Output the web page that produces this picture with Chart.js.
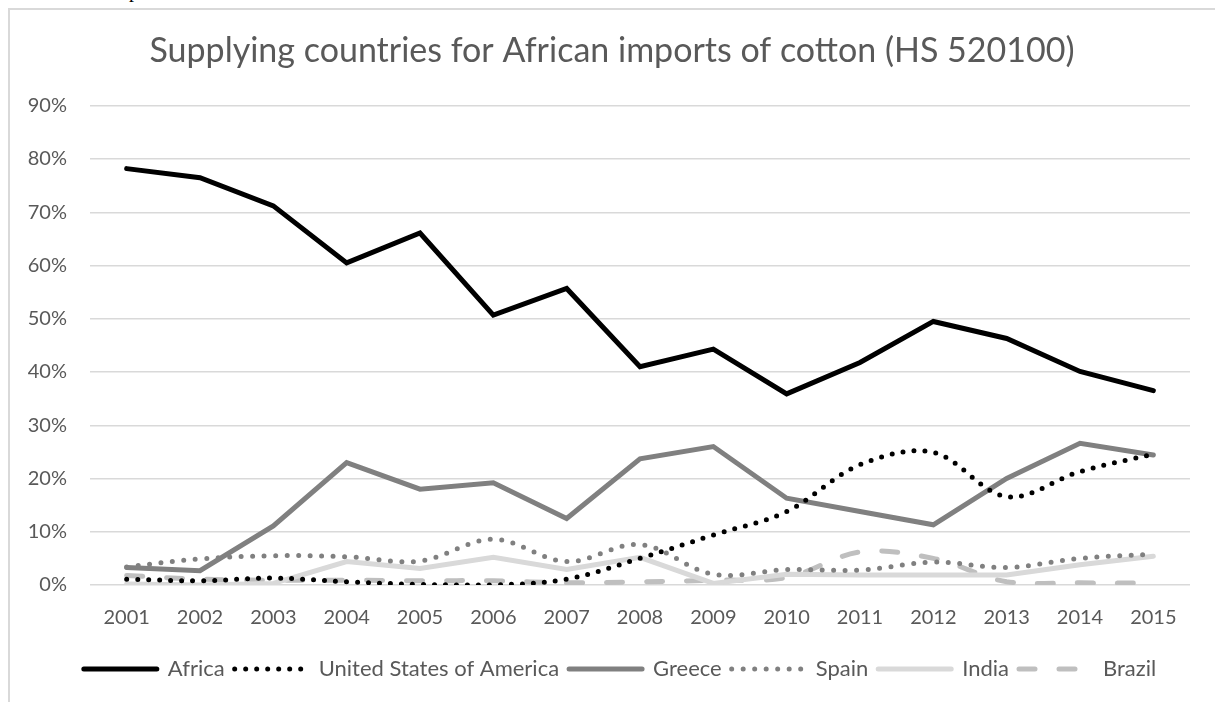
<!DOCTYPE html>
<html>
<head>
<meta charset="utf-8">
<script src="https://cdn.jsdelivr.net/npm/chart.js@4"></script>
<style>
  html, body { margin: 0; padding: 0; background: #fff; }
  body { width: 1215px; height: 702px; position: relative; overflow: hidden; }
  #frame { position: absolute; left: 8px; top: 8px; width: 1300px; height: 800px;
           border-left: 2px solid #d9d9d9; border-top: 2px solid #d9d9d9; box-sizing: border-box; pointer-events: none; }
  #clip { position: absolute; left: 129px; top: -21px; font: 20px "Liberation Serif", serif; color: #000; }
  #wrap { position: absolute; left: 0; top: 0; width: 1215px; height: 702px; }
</style>
</head>
<body>
<div id="clip">p</div>
<div id="wrap"><canvas id="c"></canvas></div>
<div id="frame"></div>
<script>
const years = ['2001','2002','2003','2004','2005','2006','2007','2008','2009','2010','2011','2012','2013','2014','2015'];
const africa = [78.2, 76.5, 71.2, 60.5, 66.1, 50.7, 55.7, 41.0, 44.3, 35.9, 41.8, 49.5, 46.3, 40.1, 36.5];
const usa    = [1.1, 0.8, 1.3, 0.6, 0.1, 0.0, 1.1, 5.0, 9.4, 13.8, 22.6, 24.9, 16.6, 21.3, 24.6];
const greece = [3.3, 2.7, 11.1, 23.0, 18.0, 19.2, 12.5, 23.7, 26.0, 16.3, 13.8, 11.3, 20.0, 26.6, 24.4];
const spain  = [3.4, 4.9, 5.5, 5.3, 4.5, 8.6, 4.4, 7.6, 2.0, 2.9, 2.8, 4.3, 3.3, 5.0, 5.8];
const india  = [0.2, 0.0, 0.3, 4.4, 3.1, 5.2, 2.9, 5.2, 0.3, 2.0, 1.9, 1.9, 1.9, 3.8, 5.4];
const brazil = [1.8, 1.1, 0.9, 0.9, 0.8, 0.8, 0.4, 0.6, 0.9, 1.4, 6.2, 5.0, 0.6, 0.4, 0.4];
const yTicks = ['0%','10%','20%','30%','40%','50%','60%','70%','80%','90%'];

const FONT = 'Lato, Carlito, "Open Sans", sans-serif';
const TXT = '#595959';

function ds(label, data, color, dash, tension) {
  return {
    label, data,
    borderColor: color, backgroundColor: color,
    borderWidth: 5, borderDash: dash, borderCapStyle: 'round', borderJoinStyle: 'miter',
    pointRadius: 0, pointHoverRadius: 0, tension: tension, fill: false,
    pointStyle: 'line'
  };
}

// shift the title and legend blocks slightly to the right, as in the reference
const shiftBlocks = {
  id: 'shiftBlocks',
  afterLayout(chart) {
    if (chart.titleBlock) { chart.titleBlock.left += 34; }
    if (chart.legend) { chart.legend.left += 25; chart.legend.right += 25; }
  }
};

new Chart(document.getElementById('c'), {
  type: 'line',
  data: {
    labels: years,
    datasets: [
      ds('Africa', africa, '#000000', [], 0),
      ds('United States of America', usa, '#000000', [0, 11], 0.35),
      ds('Greece', greece, '#808080', [], 0),
      ds('Spain', spain, '#808080', [0, 11.5], 0.35),
      ds('India', india, '#d9d9d9', [], 0),
      ds('Brazil', brazil, '#bfbfbf', [16, 24], 0.35)
    ]
  },
  plugins: [shiftBlocks],
  options: {
    responsive: true,
    maintainAspectRatio: false,
    animation: false,
    events: [],
    layout: { padding: { left: 0, right: 25, top: 0, bottom: 12 } },
    plugins: {
      title: {
        display: true,
        text: 'Supplying countries for African imports of cotton (HS 520100)',
        color: TXT,
        font: { family: FONT, size: 34, weight: 'normal', lineHeight: 1.2 },
        padding: { top: 31, bottom: 34 }
      },
      legend: {
        position: 'bottom',
        labels: {
          usePointStyle: true,
          pointStyleWidth: 73,
          boxHeight: 5,
          color: TXT,
          padding: 10,
          font: { family: FONT, size: 22 },
          generateLabels: (chart) => {
            const items = Chart.defaults.plugins.legend.labels.generateLabels(chart);
            items.forEach((it) => {
              const d = chart.data.datasets[it.datasetIndex];
              it.lineDash = d.borderDash;
              it.lineDashOffset = 0;
              it.lineCap = 'round';
              it.lineWidth = 5;
              it.strokeStyle = d.borderColor;
              it.fillStyle = d.borderColor;
              it.pointStyle = 'line';
              it.fontColor = TXT;
            });
            return items;
          }
        }
      },
      tooltip: { enabled: false }
    },
    scales: {
      x: {
        offset: true,
        grid: { display: false, drawTicks: false, offset: true },
        border: { display: false },
        ticks: { color: TXT, font: { family: FONT, size: 20 }, padding: 21, maxRotation: 0 },
        afterFit: (s) => { s.height = 63; }
      },
      y: {
        min: 0, max: 90,
        grid: { color: '#d9d9d9', lineWidth: 1.5, drawTicks: false },
        border: { display: false },
        ticks: {
          stepSize: 10, color: TXT, padding: 23,
          font: { family: FONT, size: 20 },
          callback: (v, i) => yTicks[Math.round(v / 10)]
        },
        afterFit: (s) => { s.width = 90; }
      }
    }
  }
});
</script>
</body>
</html>
